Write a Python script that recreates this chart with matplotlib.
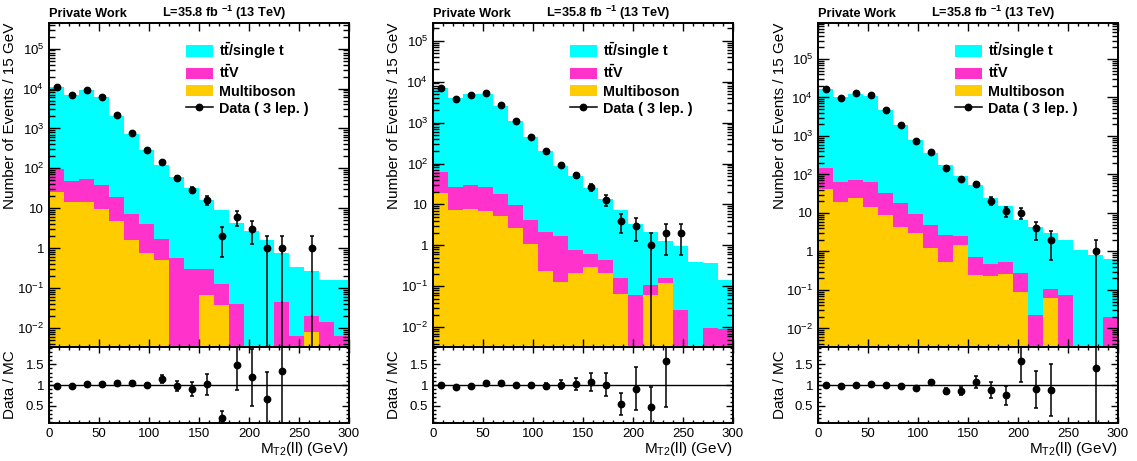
import numpy as np
import matplotlib
matplotlib.use('Agg')
import matplotlib.pyplot as plt
from matplotlib.patches import Patch
from matplotlib.lines import Line2D
from matplotlib.ticker import FixedLocator, FixedFormatter, LogLocator, MultipleLocator, NullFormatter

plt.rcParams['font.family'] = 'Liberation Sans'
plt.rcParams['mathtext.fontset'] = 'custom'
plt.rcParams['mathtext.rm'] = 'Liberation Sans'
plt.rcParams['mathtext.it'] = 'Liberation Sans:italic'
plt.rcParams['mathtext.bf'] = 'Liberation Sans:bold'

# M_T2(ll) bins, 15 GeV wide
edges = np.arange(0, 301, 15)
centers = edges[:-1] + 7.5

# panel 1
top_1 = [10900, 6950, 8950, 5960, 2080, 733, 286, 122, 59, 31.7, 15.4, 8.8, 4.26, 2.6, 1.57, 0.715, 0.324, 0.25, 0.146, 0.149]
ttv_1 = [71, 32.5, 39.5, 29.5, 14.7, 5.47, 3.35, 1.24, 0.57, 0.30, 0.223, 0.088, 0.039, 0, 0, 0.045, 0.0062, 0.0122, 0.014, 0.0062]
mb_1 = [25, 14.5, 14.5, 9.5, 4.8, 1.63, 0.75, 0.49, 0, 0, 0.067, 0.037, 0, 0, 0, 0, 0, 0.0078, 0, 0]
data_1 = [10800, 6800, 9200, 6100, 2200, 775, 290, 142, 58, 29, 16, 2, 6, 3, 1, 1, 0, 1, 0, 0]
ratio_1 = [0.98, 0.97, 1.02, 1.02, 1.06, 1.05, 1.0, 1.15, 0.97, 0.90, 1.02, 0.21, 1.48, 1.19, 0.66, 1.33,
           np.nan, np.nan, np.nan, np.nan]

# panel 2
top_2 = [7040, 3870, 4870, 5070, 2580, 1070, 436, 202, 87, 49, 24, 12.9, 7.3, 3.34, 2.0, 1.16, 0.92, 0.39, 0.37, 0.131]
ttv_2 = [44, 18.8, 22.1, 19.2, 12.5, 6.8, 3.1, 1.87, 1.57, 0.58, 0.33, 0.24, 0.094, 0.063, 0.047, 0.036, 0.027, 0, 0.0095, 0.009]
mb_2 = [19, 7.2, 7.9, 6.8, 5.1, 2.7, 1.1, 0.235, 0.127, 0.21, 0.30, 0.21, 0.066, 0, 0.06, 0.12, 0, 0, 0, 0]
data_2 = [7100, 3750, 4800, 5200, 2750, 1080, 440, 200, 90, 51, 26, 13, 4, 3, 1, 2, 2, 0, 0, 0]
ratio_2 = [1.0, 0.96, 0.98, 1.04, 1.06, 1.0, 1.0, 0.98, 1.01, 1.02, 1.07, 1.01, 0.54, 0.91, 0.47, 1.59,
           np.nan, np.nan, np.nan, np.nan]

# panel 3
top_3 = [16900, 9940, 12600, 10900, 4770, 1930, 780, 348, 172, 86.5, 52.3, 24.1, 14.4, 6.3, 4.38, 2.89, 1.86, 1.1, 0.79, 0.63]
ttv_3 = [103, 43, 47.4, 47.3, 24.4, 13.4, 6.5, 3.75, 2.07, 1.07, 0.47, 0.23, 0.27, 0.181, 0.022, 0.046, 0.072, 0, 0, 0.020]
mb_3 = [43, 19, 24.6, 14.7, 8.6, 4.4, 3.0, 1.25, 0.53, 1.43, 0.24, 0.23, 0.26, 0.089, 0, 0.062, 0, 0, 0, 0]
data_3 = [16500, 9800, 12800, 11300, 4850, 1900, 735, 378, 149, 77, 56, 21, 11, 10, 4, 2, 0, 0, 1, 0]
ratio_3 = [1.0, 0.98, 1.01, 1.03, 1.01, 0.98, 0.93, 1.07, 0.85, 0.86, 1.07, 0.89, 0.75, 1.58, 0.90, 0.88,
           np.nan, np.nan, 1.40, np.nan]

log_ticks = [1e-2, 1e-1, 1, 10, 1e2, 1e3, 1e4, 1e5]
log_labels = [r'$10^{-2}$', r'$10^{-1}$', '1', '10', r'$10^{2}$', r'$10^{3}$', r'$10^{4}$', r'$10^{5}$']

cyan = '#00FFFF'
magenta = '#FF33CC'
yellow = '#FFCC00'

panels = [(top_1, ttv_1, mb_1, data_1, ratio_1),
          (top_2, ttv_2, mb_2, data_2, ratio_2),
          (top_3, ttv_3, mb_3, data_3, ratio_3)]
ymaxs = [4.4e5, 2.7e5, 8.6e5]
lefts = [49, 433, 818]
W, H = 1137, 461

fig = plt.figure(figsize=(11.37, 4.61), dpi=100)

for i, (top, ttv, mb, data, ratio) in enumerate(panels):
    x0 = lefts[i] / W
    w = 300 / W
    ax = fig.add_axes([x0, (H - 347) / H, w, 324 / H])
    rx = fig.add_axes([x0, (H - 423) / H, w, 76 / H])

    mb = np.array(mb, float)
    s_ttv = mb + np.array(ttv, float)
    s_all = s_ttv + np.array(top, float)

    ax.set_yscale('log')
    ax.bar(edges[:-1], s_all, width=15, align='edge', color=cyan, lw=0, antialiased=False)
    ax.bar(edges[:-1], s_ttv, width=15, align='edge', color=magenta, lw=0, antialiased=False)
    ax.bar(edges[:-1], mb, width=15, align='edge', color=yellow, lw=0, antialiased=False)

    n = np.array(data, float)
    m = n > 0
    ax.errorbar(centers[m], n[m], yerr=np.sqrt(n[m]), fmt='o', color='k', ms=4.6,
                elinewidth=1.1, capsize=1.6, capthick=1.1, zorder=5)
    ax.set_ylim(0.0033, ymaxs[i])

    r = np.array(ratio, float)
    ok = ~np.isnan(r)
    rx.axhline(1, color='k', lw=1)
    rx.errorbar(centers[ok], r[ok], yerr=r[ok] / np.sqrt(n[ok]), fmt='o', color='k', ms=4.6,
                elinewidth=1.1, capsize=1.6, capthick=1.1, zorder=5)
    rx.set_ylim(0.08, 1.92)

    for a in (ax, rx):
        a.set_xlim(0, 300)
        a.xaxis.set_major_locator(MultipleLocator(50))
        a.xaxis.set_minor_locator(MultipleLocator(10))
        a.tick_params(which='both', direction='in', top=True, right=True, width=1, labelsize=9.5)
        for sp in a.spines.values():
            sp.set_linewidth(1.4)

    ax.yaxis.set_major_locator(FixedLocator(log_ticks))
    ax.yaxis.set_major_formatter(FixedFormatter(log_labels))
    ax.yaxis.set_minor_locator(LogLocator(base=10, subs=np.arange(2, 10), numticks=20))
    ax.yaxis.set_minor_formatter(NullFormatter())
    ax.tick_params(axis='y', which='major', length=8)
    ax.tick_params(axis='y', which='minor', length=4)
    ax.tick_params(axis='x', which='major', length=5.5)
    ax.tick_params(axis='x', which='minor', length=2.5)
    ax.tick_params(labelbottom=False)

    rx.yaxis.set_major_locator(FixedLocator([0.5, 1, 1.5]))
    rx.yaxis.set_major_formatter(FixedFormatter(['0.5', '1', '1.5']))
    rx.yaxis.set_minor_locator(MultipleLocator(0.1))
    rx.tick_params(axis='y', which='major', length=5)
    rx.tick_params(axis='y', which='minor', length=2.5)
    rx.tick_params(axis='x', which='major', length=4)
    rx.tick_params(axis='x', which='minor', length=2)

    ax.set_ylabel('Number of Events / 15 GeV', fontsize=11, loc='top')
    ax.yaxis.set_label_coords(-0.105, 1.0)
    rx.set_ylabel('Data / MC', fontsize=11)
    rx.yaxis.set_label_coords(-0.105, 0.5)
    rx.set_xlabel(r'M$_{\mathregular{T2}}$(ll) (GeV)', fontsize=11, loc='right')
    rx.xaxis.set_label_coords(1.0, -0.22)

    handles = [Patch(facecolor=cyan, edgecolor='none'),
               Patch(facecolor=magenta, edgecolor='none'),
               Patch(facecolor=yellow, edgecolor='none'),
               Line2D([], [], color='k', marker='o', ms=4.6, lw=1.1)]
    labels = [r'$\mathbf{t\bar{t}}$/single t', r'$\mathbf{t\bar{t}}$V', 'Multiboson', 'Data ( 3 lep. )']
    ax.legend(handles, labels, loc='upper left', bbox_to_anchor=(0.455, 0.945), frameon=False,
              prop={'weight': 'bold', 'size': 10.4}, handlelength=1.9, handleheight=0.85,
              handletextpad=0.45, labelspacing=0.22, borderpad=0, borderaxespad=0)

    fig.text(x0, 1 - 17 / H, 'Private Work', weight='bold', size=9.2, va='baseline')
    fig.text((lefts[i] + 113) / W, 1 - 17 / H, r'L=35.8 fb $^{\mathbf{-1}}$ (13 TeV)',
             weight='bold', size=9.2, va='baseline')

fig.savefig('out.png', dpi=100)
